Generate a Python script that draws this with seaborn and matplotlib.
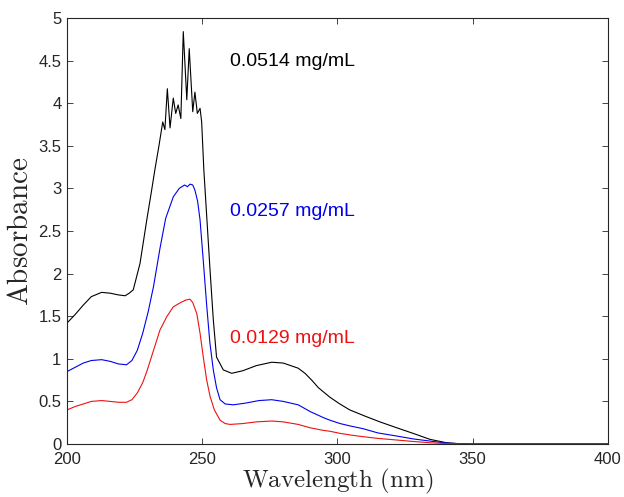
import numpy as np
import pandas as pd
import matplotlib
matplotlib.use('Agg')
import matplotlib.pyplot as plt
import seaborn as sns

# %%
# absorbance spectra
wl_hi = [200, 203, 206, 209, 212.8, 216, 219, 221.5, 223, 224.5, 227, 229.5, 231.3, 232.5,
         234, 235.4, 236.2, 237.1, 238.1, 239.3, 240.2, 241.1, 242.1, 243.0, 244.3, 245.2,
         246.5, 247.3, 248.2, 249.2, 249.8, 250.6, 252.9, 254.1, 255.3, 257.8, 260.9, 265,
         270, 275.7, 280, 285.5, 288, 290.5, 293, 297.2, 300.9, 304.6, 310, 315.7, 322, 328,
         334.2, 340.4, 345, 350, 370, 400]
abs_hi = [1.42, 1.52, 1.63, 1.73, 1.78, 1.77, 1.75, 1.74, 1.77, 1.81, 2.12, 2.63, 2.98, 3.22,
          3.50, 3.78, 3.69, 4.17, 3.71, 4.06, 3.88, 3.98, 3.82, 4.84, 4.04, 4.64,
          3.90, 4.13, 3.88, 3.94, 3.78, 3.22, 2.04, 1.46, 1.02, 0.87, 0.83, 0.86,
          0.92, 0.96, 0.95, 0.89, 0.83, 0.75, 0.66, 0.55, 0.47, 0.40, 0.33, 0.26, 0.19, 0.125,
          0.055, 0.015, 0.004, 0.0, 0.0, 0.0]

wl_mid = [200, 203, 206, 209, 212.8, 216, 219, 222, 224, 226, 228, 230, 232, 234.4, 236.5,
          239.3, 241.5, 243.5, 244.5, 245.5, 246.5, 247.3, 248.3, 249.2, 250.4, 251.6, 252.8,
          254.1, 255.3, 256.6, 258.5, 261.5, 266, 271, 275.7, 280, 285.5, 290, 294.8, 297.2,
          301, 305, 309.5, 315, 321.9, 328, 334.2, 340, 345, 350, 370, 400]
abs_mid = [0.85, 0.90, 0.95, 0.98, 0.99, 0.97, 0.94, 0.93, 0.98, 1.10, 1.30, 1.55, 1.85, 2.30, 2.65,
           2.90, 3.00, 3.04, 3.02, 3.05, 3.04, 2.98, 2.85, 2.63, 2.15, 1.65, 1.20,
           0.87, 0.66, 0.52, 0.47, 0.46, 0.48, 0.51, 0.52, 0.50, 0.46, 0.38, 0.31, 0.28,
           0.24, 0.21, 0.18, 0.13, 0.094, 0.06, 0.035, 0.012, 0.004, 0.0, 0.0, 0.0]

wl_lo = [200, 203, 206, 209, 212.8, 216, 219, 222, 224, 226, 228, 229.5, 232, 234.4, 237,
         239.3, 242, 244, 245.5, 246.5, 248, 249.2, 250.4, 251.6, 252.9, 254.5, 256.6, 258.5,
         260.3, 265, 270, 275.7, 280, 285.5, 290, 294.8, 297.2, 301, 305, 309.5, 315, 321.9,
         328, 334.2, 340, 345, 350, 370, 400]
abs_lo = [0.40, 0.44, 0.47, 0.50, 0.51, 0.50, 0.49, 0.49, 0.52, 0.60, 0.72, 0.85, 1.10, 1.34, 1.50,
          1.61, 1.66, 1.69, 1.70, 1.66, 1.53, 1.30, 1.02, 0.76, 0.56, 0.40, 0.28, 0.24,
          0.23, 0.24, 0.26, 0.27, 0.26, 0.23, 0.19, 0.16, 0.15, 0.125, 0.105, 0.086, 0.066, 0.047,
          0.03, 0.015, 0.006, 0.002, 0.0, 0.0, 0.0]

labels = ['0.0514 mg/mL', '0.0257 mg/mL', '0.0129 mg/mL']
colors = ['black', '#0000ee', '#ee1111']
label_y = [4.49, 2.73, 1.24]

# %%
df = pd.concat([
    pd.DataFrame({'wl': wl_hi, 'A': abs_hi, 'conc': labels[0]}),
    pd.DataFrame({'wl': wl_mid, 'A': abs_mid, 'conc': labels[1]}),
    pd.DataFrame({'wl': wl_lo, 'A': abs_lo, 'conc': labels[2]}),
], ignore_index=True)

sns.set_style('white')
plt.rcParams['font.family'] = ['Liberation Sans', 'DejaVu Sans']
plt.rcParams['mathtext.fontset'] = 'cm'

fig = plt.figure(figsize=(6.24, 4.97), dpi=100)
ax = fig.add_axes([0.1074, 0.1066, 0.8666, 0.8572])
sns.lineplot(data=df, x='wl', y='A', hue='conc', palette=dict(zip(labels, colors)),
             estimator=None, sort=False, linewidth=0.8, legend=False, ax=ax)

for lab, col, yy in zip(labels, colors, label_y):
    ax.text(260.3, yy, lab, color=col, fontsize=14, va='center', ha='left')

ax.set_xlim(200, 400)
ax.set_ylim(0, 5)
ax.set_xticks([200, 250, 300, 350, 400])
ax.set_yticks(np.arange(0, 5.01, 0.5))
ax.set_yticklabels(['0', '0.5', '1', '1.5', '2', '2.5', '3', '3.5', '4', '4.5', '5'])
ax.tick_params(direction='in', length=4, width=0.6, colors='#262626', labelsize=12,
               top=True, right=True, bottom=True, left=True)
ax.tick_params(axis='x', pad=6)
ax.tick_params(axis='y', pad=4)
for s in ax.spines.values():
    s.set_color('#262626')
    s.set_linewidth(0.8)
ax.set_xlabel(r'$\mathrm{Wavelength\ (nm)}$', fontsize=18, labelpad=0)
ax.set_ylabel(r'$\mathrm{Absorbance}$', fontsize=21, labelpad=3)

fig.savefig('out.png', dpi=100)
